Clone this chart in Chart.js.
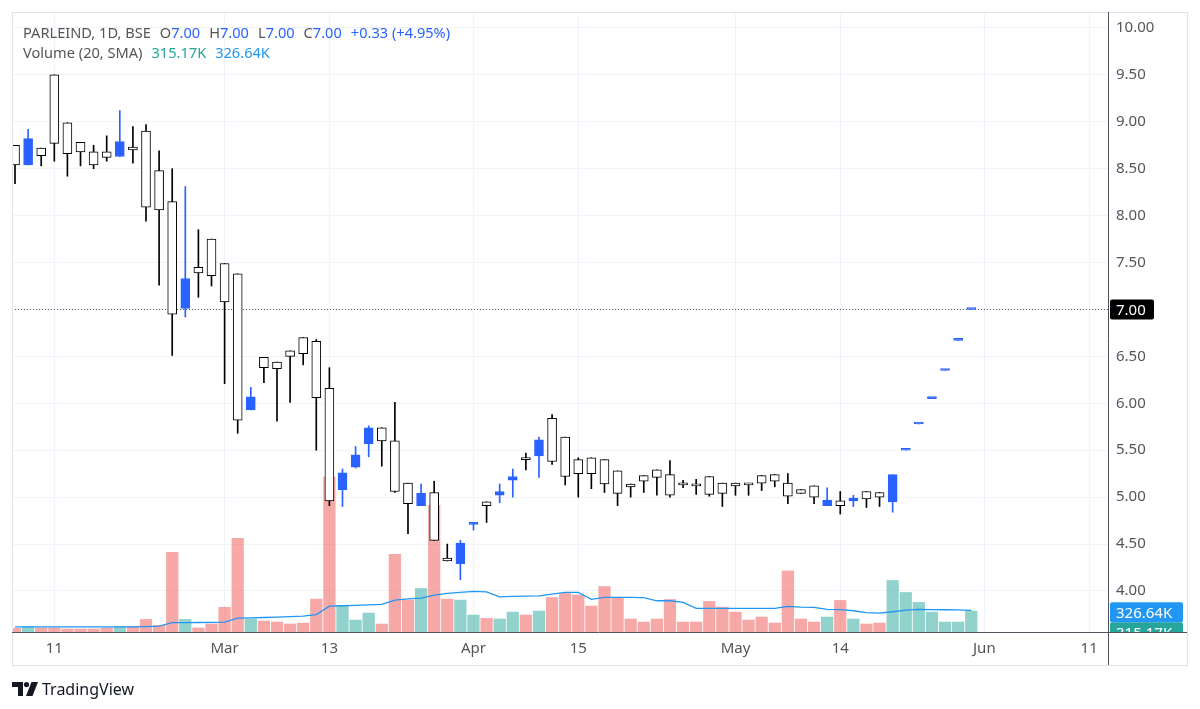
<!DOCTYPE html>
<html>
<head>
<meta charset="utf-8">
<script src="https://cdn.jsdelivr.net/npm/chart.js@4.4.1/dist/chart.umd.min.js"></script>
<style>
  html, body { margin: 0; padding: 0; background: #fff; }
  #wrap { position: relative; width: 1200px; height: 709px; font-family: "Noto Sans", sans-serif; }
  #chart { position: absolute; left: 0; top: 0; }
  .lg { position: absolute; left: 23px; font-size: 14.6px; line-height: 18px; white-space: pre; color: #555; }
  .lg span.v { color: #2962ff; }
  .lg span.gap { margin-left: 9px; }
  #volLast { color: #26a69a; }
  #volSma { color: #2196f3; }
  #logo { position: absolute; left: 12px; top: 678px; display: flex; align-items: center; color: #131722; font-size: 16px; }
  #logo svg { margin-right: 4px; }
</style>
</head>
<body>
<div id="wrap">
  <canvas id="chart" width="1200" height="709"></canvas>
  <div class="lg" id="lg1" style="top:23px"></div>
  <div class="lg" id="lg2" style="top:43px"></div>
  <div id="logo">
    <svg width="26" height="14" viewBox="0 0 26 14"><path d="M0 0H11V14H6V5H0Z" fill="#131722"/><circle cx="14.5" cy="2.6" r="2.6" fill="#131722"/><path d="M19.5 0H26L20.5 14H14Z" fill="#131722"/></svg>
    <span>TradingView</span>
  </div>
</div>
<script>
// PARLEIND daily bars, Feb 10 – May 29 (one entry per trading day)
const opens  = [8.75, 8.54, 8.72, 9.50, 8.99, 8.78, 8.68, 8.68, 8.63, 8.73,
                8.90, 8.48, 8.15, 7.01, 7.45, 7.75, 7.49, 7.38, 5.93, 6.49,
                6.44, 6.56, 6.70, 6.66, 6.16, 5.08, 5.32, 5.57, 5.74, 5.60,
                5.15, 4.91, 5.05, 4.35, 4.29, 4.71, 4.95, 5.02, 5.18, 5.41,
                5.44, 5.84, 5.64, 5.40, 5.42, 5.40, 5.28, 5.14, 5.23, 5.29,
                5.24, 5.14, 5.12, 5.22, 5.15, 5.15, 5.14, 5.23, 5.24, 5.15,
                5.08, 5.12, 4.91, 4.96, 4.96, 5.06, 5.05, 4.95, 5.50, 5.78,
                6.05, 6.35, 6.67, 7.00];
const highs  = [8.75, 8.92, 8.72, 9.50, 8.99, 8.78, 8.75, 8.85, 9.12, 8.95,
                8.97, 8.69, 8.50, 8.31, 7.85, 7.75, 7.49, 7.38, 6.17, 6.49,
                6.44, 6.56, 6.70, 6.68, 6.38, 5.30, 5.54, 5.76, 5.74, 6.01,
                5.15, 5.14, 5.17, 4.50, 4.54, 4.72, 4.95, 5.14, 5.30, 5.47,
                5.64, 5.88, 5.64, 5.42, 5.42, 5.40, 5.28, 5.14, 5.23, 5.29,
                5.39, 5.18, 5.19, 5.22, 5.15, 5.15, 5.14, 5.23, 5.24, 5.25,
                5.08, 5.12, 5.10, 5.06, 5.02, 5.06, 5.05, 5.24, 5.50, 5.78,
                6.05, 6.35, 6.67, 7.00];
const lows   = [8.34, 8.54, 8.53, 8.58, 8.42, 8.53, 8.50, 8.58, 8.63, 8.56,
                7.94, 7.26, 6.51, 6.92, 7.13, 7.25, 6.21, 5.68, 5.93, 6.22,
                5.81, 6.01, 6.41, 5.50, 4.91, 4.90, 5.31, 5.43, 5.33, 5.05,
                4.61, 4.91, 4.54, 4.32, 4.12, 4.65, 4.73, 4.94, 5.00, 5.29,
                5.21, 5.35, 5.13, 5.00, 5.09, 5.05, 4.91, 5.00, 5.05, 5.02,
                5.00, 5.10, 5.03, 5.01, 4.90, 5.02, 5.02, 5.07, 5.11, 4.93,
                5.04, 4.93, 4.91, 4.82, 4.90, 4.89, 4.90, 4.84, 5.50, 5.78,
                6.05, 6.35, 6.67, 7.00];
const closes = [8.54, 8.82, 8.64, 8.77, 8.66, 8.68, 8.54, 8.62, 8.79, 8.70,
                8.09, 8.06, 6.95, 7.33, 7.39, 7.36, 7.08, 5.82, 6.07, 6.38,
                6.37, 6.50, 6.53, 6.06, 4.96, 5.26, 5.45, 5.74, 5.60, 5.06,
                4.93, 5.04, 4.54, 4.32, 4.51, 4.72, 4.91, 5.06, 5.22, 5.40,
                5.61, 5.38, 5.22, 5.25, 5.25, 5.14, 5.04, 5.11, 5.17, 5.21,
                5.02, 5.13, 5.12, 5.03, 5.04, 5.12, 5.13, 5.15, 5.17, 5.01,
                5.04, 5.00, 4.97, 4.91, 4.99, 4.98, 5.00, 5.24, 5.50, 5.78,
                6.05, 6.35, 6.67, 7.00];
// volume in thousands of shares, and its 20-day SMA
const volumeK = [55, 83, 61, 61, 45, 45, 45, 61, 83, 83,
                 189, 100, 1200, 189, 61, 122, 372, 1410, 195, 165,
                 150, 120, 135, 495, 2330, 400, 180, 285, 120, 1170,
                 480, 655, 1905, 495, 480, 255, 205, 195, 300, 255,
                 315, 520, 580, 555, 390, 685, 520, 195, 150, 195,
                 490, 150, 150, 460, 375, 300, 180, 225, 135, 920,
                 195, 150, 225, 475, 195, 120, 135, 775, 595, 445,
                 300, 150, 150, 315.17];
const volSmaK = [78, 78, 78, 78, 78, 78, 78, 78, 78, 78,
                 82, 88, 140, 142, 143, 145, 150, 208, 212, 218,
                 224, 230, 238, 262, 390, 395, 400, 408, 416, 480,
                 500, 510, 555, 580, 597, 610, 605, 530, 535, 540,
                 545, 570, 595, 595, 490, 520, 522, 522, 518, 470,
                 470, 445, 357, 357, 357, 357, 357, 357, 355, 385,
                 375, 370, 340, 338, 320, 292, 285, 305, 330, 340,
                 338, 335, 332, 326.64];
const priceTicks = [10, 9.5, 9, 8.5, 8, 7.5, 7, 6.5, 6, 5.5, 5, 4.5, 4];
const dateTickIdx = [3, 16, 24, 35, 43, 55, 63, 74, 82];
const dateTickLabels = ['11', 'Mar', '13', 'Apr', '15', 'May', '14', 'Jun', '11'];

const UP = '#2962ff', DOWN = '#000000';
const VOL_UP = 'rgba(38,166,154,0.5)', VOL_DOWN = 'rgba(239,83,80,0.5)';
const TEXT = '#555555', AXIS = '#50535e', GRID = '#f0f3fa';

const n = closes.length;
const idx = closes.map((_, i) => i);
const isUp = closes.map((c, i) => c > opens[i] || (c === opens[i] && i > 0 && c > closes[i - 1]));

// header legend
const last = n - 1;
const chg = closes[last] - closes[last - 1];
const pct = chg / closes[last - 1] * 100;
const sgn = v => (v >= 0 ? '+' : '-') + Math.abs(v).toFixed(2);
document.getElementById('lg1').innerHTML =
  'PARLEIND, 1D, BSE' +
  '<span class="gap">O</span><span class="v">' + opens[last].toFixed(2) + '</span>' +
  '<span class="gap">H</span><span class="v">' + highs[last].toFixed(2) + '</span>' +
  '<span class="gap">L</span><span class="v">' + lows[last].toFixed(2) + '</span>' +
  '<span class="gap">C</span><span class="v">' + closes[last].toFixed(2) + '</span>' +
  '<span class="gap v">' + sgn(chg) + ' (' + sgn(pct) + '%)</span>';
document.getElementById('lg2').innerHTML =
  'Volume (20, SMA)<span class="gap" id="volLast">' + volumeK[last].toFixed(2) + 'K</span>' +
  '<span class="gap" id="volSma">' + volSmaK[last].toFixed(2) + 'K</span>';

// last price line, price / volume tags, frame
const overlay = {
  id: 'overlay',
  beforeDatasetsDraw(chart) {
    const { ctx, chartArea: a, scales: { y } } = chart;
    const py = Math.round(y.getPixelForValue(closes[last])) + 0.5;
    ctx.save();
    ctx.strokeStyle = '#5d606b';
    ctx.lineWidth = 1;
    ctx.setLineDash([1, 2]);
    ctx.beginPath();
    ctx.moveTo(a.left, py);
    ctx.lineTo(a.right, py);
    ctx.stroke();
    ctx.restore();
  },
  afterDraw(chart) {
    const { ctx, chartArea: a, scales: { y, yVol } } = chart;
    const right = a.right + 79, bottom = a.bottom + 33;
    ctx.save();
    ctx.strokeStyle = '#e0e3eb';
    ctx.lineWidth = 1;
    ctx.strokeRect(a.left + 0.5, a.top + 0.5, right - a.left, bottom - a.top);
    ctx.strokeStyle = AXIS;
    ctx.beginPath();
    ctx.moveTo(a.right + 0.5, a.top);
    ctx.lineTo(a.right + 0.5, bottom);
    ctx.moveTo(a.left, a.bottom + 0.5);
    ctx.lineTo(right, a.bottom + 0.5);
    ctx.stroke();

    const tag = (text, cy, bg, w) => {
      ctx.fillStyle = bg;
      ctx.beginPath();
      ctx.roundRect(a.right + 2, cy - 10, w, 20, 2);
      ctx.fill();
      ctx.fillStyle = '#fff';
      ctx.font = '15px "Noto Sans"';
      ctx.textBaseline = 'middle';
      ctx.textAlign = 'left';
      ctx.fillText(text, a.right + 8, cy + 1);
    };
    tag(closes[last].toFixed(2), y.getPixelForValue(closes[last]), '#000', 44);

    const smaY = yVol.getPixelForValue(volSmaK[last]) + 2;
    ctx.save();
    ctx.beginPath();
    ctx.rect(a.right + 1, a.top, 80, a.bottom - a.top);
    ctx.clip();
    tag(volumeK[last].toFixed(2) + 'K', smaY + 20, '#26a69a', 73);
    ctx.restore();
    tag(volSmaK[last].toFixed(2) + 'K', smaY, '#2196f3', 73);
    ctx.restore();
  }
};

new Chart(document.getElementById('chart'), {
  type: 'bar',
  data: {
    datasets: [
      {
        label: 'body',
        data: idx.map(i => ({ x: i, y: [opens[i], closes[i]] })),
        backgroundColor: isUp.map(u => u ? UP : '#ffffff'),
        borderColor: isUp.map(u => u ? UP : DOWN),
        borderWidth: 1,
        borderSkipped: false,
        barThickness: 9,
        minBarLength: 2,
        grouped: false,
        yAxisID: 'y',
        order: 0,
      },
      {
        label: 'wick',
        data: idx.map(i => ({ x: i, y: [lows[i], highs[i]] })),
        backgroundColor: isUp.map(u => u ? UP : DOWN),
        barThickness: 1,
        grouped: false,
        yAxisID: 'y',
        order: 1,
      },
      {
        type: 'line',
        label: 'Volume SMA',
        data: idx.map(i => ({ x: i, y: volSmaK[i] })),
        borderColor: '#2196f3',
        borderWidth: 1.3,
        pointRadius: 0,
        tension: 0,
        yAxisID: 'yVol',
        order: 2,
      },
      {
        label: 'Volume',
        data: idx.map(i => ({ x: i, y: volumeK[i] })),
        backgroundColor: isUp.map(u => u ? VOL_UP : VOL_DOWN),
        barThickness: 11.6,
        grouped: false,
        yAxisID: 'yVol',
        order: 3,
      },
    ],
  },
  options: {
    responsive: false,
    animation: false,
    devicePixelRatio: 1,
    events: [],
    layout: { padding: { left: 12, top: 12, right: 13, bottom: 44 } },
    plugins: { legend: { display: false }, tooltip: { enabled: false } },
    scales: {
      x: {
        type: 'linear',
        min: -0.23,
        max: 83.44,
        offset: false,
        grid: { color: GRID, offset: false, drawTicks: false },
        border: { display: false },
        afterBuildTicks: s => { s.ticks = dateTickIdx.map(v => ({ value: v })); },
        afterFit: s => { s.height = 33; s.paddingLeft = 0; s.paddingRight = 0; },
        ticks: {
          autoSkip: false, maxRotation: 0, minRotation: 0, padding: 8,
          color: TEXT, font: { family: 'Noto Sans', size: 15 },
          callback: (v, i) => dateTickLabels[i],
        },
      },
      y: {
        type: 'linear',
        position: 'right',
        min: 3.563,
        max: 10.17,
        grid: { color: GRID, drawTicks: false },
        border: { display: false },
        afterBuildTicks: s => { s.ticks = priceTicks.map(v => ({ value: v })); },
        afterFit: s => { s.width = 79; s.paddingTop = 0; s.paddingBottom = 0; },
        ticks: {
          padding: 8, color: TEXT, font: { family: 'Noto Sans', size: 15 },
          callback: v => v.toFixed(2),
        },
      },
      yVol: {
        type: 'linear',
        display: false,
        min: 0,
        max: 9331,
      },
    },
  },
  plugins: [overlay],
});
</script>
</body>
</html>
